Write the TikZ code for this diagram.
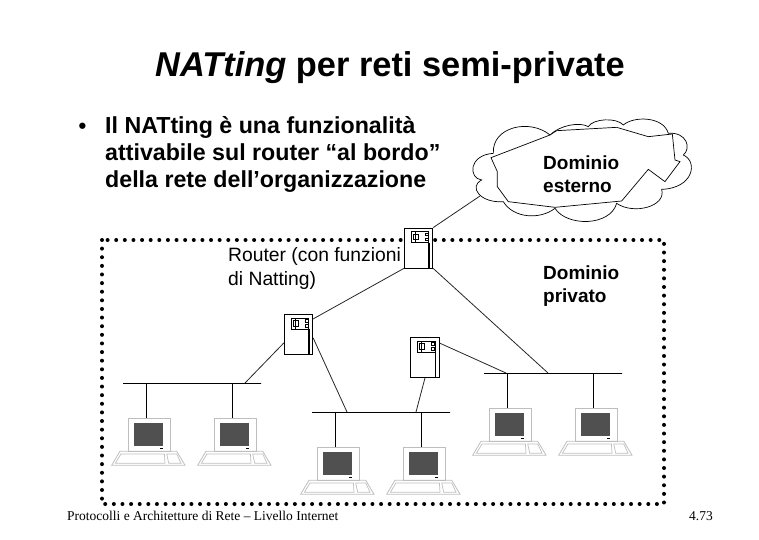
\documentclass[tikz,border=0pt]{standalone}
\usepackage{fontspec}
\setmainfont{Liberation Sans}
\newfontfamily\footfont{Liberation Serif}
\usetikzlibrary{shapes}
\definecolor{screenGray}{HTML}{505050}
\definecolor{caseGray}{HTML}{BEBEBE}
\tikzset{
 routerBox/.style={draw,fill=white,line width=.8pt,minimum width=28.5pt,minimum height=40pt,inner sep=0pt},
 pcBox/.style={draw=caseGray,fill=white,line width=1pt,minimum width=42pt,minimum height=33pt,inner sep=0pt},
 busLine/.style={draw,line width=.9pt,minimum width=138pt,minimum height=0pt,inner sep=0pt},
 link/.style={line width=.8pt,black!85},
 bigLabel/.style={anchor=north west,align=left,inner sep=0pt,font=\bfseries\fontsize{19}{23}\selectfont},
 thinLabel/.style={anchor=north west,align=left,inner sep=0pt,font=\fontsize{19.3}{24}\selectfont}
}
% Router front panel, drawn from the corner of its box
\newcommand{\routerParts}[1]{
 \begin{scope}[shift={(#1.north west)}]
  \draw[line width=.6pt] (7,4) rectangle (24.7,15);
  \draw[line width=.6pt] (9,6.5) rectangle (14,12);
  \draw[line width=1pt] (11.5,4) -- (11.5,15);
  \draw[line width=.6pt] (21,5.5) rectangle (24,8);
  \draw[line width=.6pt] (21,10.5) rectangle (24,13);
  \draw[line width=1.7pt] (25,15) -- (25,40);
 \end{scope}
}
% Screen and keyboard of a computer
\newcommand{\pcParts}[1]{
 \begin{scope}[shift={(#1.north west)}]
  \fill[screenGray] (6,4.3) rectangle (35.5,27.5);
  \fill[black] (32,29.5) rectangle (35.5,31);
  \draw[caseGray,line width=.8pt] (-7.7,33) -- (49,33) -- (57.3,47) -- (-16,47) -- cycle;
  \draw[caseGray,line width=.7pt] (-6.7,35.7) -- (36.7,35.7) -- (37.3,45) -- (-12.3,45) -- cycle;
  \draw[caseGray,line width=.7pt] (39,35.7) -- (49,35.7) -- (53.3,45) -- (41,45) -- cycle;
 \end{scope}
}
\begin{document}
\begin{tikzpicture}[x=1pt,y=-1pt]
 \useasboundingbox (0,0) rectangle (759,539);
 %% Frame of the private domain
 \draw[line width=4pt,line cap=round,dash pattern=on 0pt off 8.62pt] (102,240) rectangle (664,504);
 %% Texts
 \path (390,76) node(title)[anchor=base,inner sep=0pt,font=\bfseries\fontsize{34.4}{38}\selectfont] {\textit{NATting} per reti semi-private};
 \path (78.5,133) node(bullet)[anchor=base west,inner sep=0pt,font=\bfseries\fontsize{22}{27}\selectfont] {•};
 \path (105,116.5) node(bulletText)[anchor=north west,align=left,inner sep=0pt,font=\bfseries\fontsize{23.2}{27}\selectfont]
  {Il NATting è una funzionalità\\attivabile sul router “al bordo”\\della rete dell’organizzazione};
 \path (67,520) node(footLeft)[anchor=base west,inner sep=0pt,font=\footfont\fontsize{13.5}{15}\selectfont] {Protocolli e Architetture di Rete – Livello Internet};
 \path (713,520) node(footRight)[anchor=base east,inner sep=0pt,font=\footfont\fontsize{13.5}{15}\selectfont] {4.73};
 %% Cloud
 \begin{scope}[shift={(460,120)},scale=.3333]
  \draw[line width=.7pt,fill=white] (100,100) .. controls (95,20) and (210,-5) .. (270,45)
   .. controls (300,15) and (360,5) .. (385,20)
   .. controls (400,-5) and (470,-8) .. (490,15)
   .. controls (520,-12) and (610,-12) .. (625,40)
   .. controls (680,35) and (695,85) .. (670,105)
   .. controls (715,125) and (700,205) .. (605,208)
   .. controls (620,260) and (520,285) .. (470,250)
   .. controls (450,320) and (320,320) .. (285,265)
   .. controls (240,300) and (160,295) .. (130,245)
   .. controls (60,250) and (25,200) .. (65,180)
   .. controls (25,175) and (25,105) .. (100,100) -- cycle;
  \draw[line width=.7pt,fill=white] (93,113) -- (270,45) -- (290,32) -- (470,22) -- (565,50)
   -- (637,42) -- (645,120) -- (660,125) -- (615,185) -- (565,148) -- (485,243)
   -- (285,262) -- (145,245) -- (112,200) -- (112,155) -- cycle;
  \coordinate (cloudFoot) at (60,228);
 \end{scope}
 \path (543,156) node(cloudLabel)[bigLabel] {Dominio\\esterno};
 \path (543,266) node(privateLabel)[bigLabel] {Dominio\\privato};
 \path (228,247) node(routerLabel)[thinLabel] {Router (con funzioni\\di Natting)};
 %% Routers
 \path (418.5,248) node(routerTop)[routerBox] {};
 \path (298.5,334.3) node(routerLeft)[routerBox] {};
 \path (425,357.5) node(routerRight)[routerBox] {};
 \routerParts{routerTop}
 \routerParts{routerLeft}
 \routerParts{routerRight}
 %% Networks
 \path (192,383) node(busA)[busLine] {};
 \path (381,412) node(busB)[busLine] {};
 \path (553,373) node(busC)[busLine] {};
 %% Computers
 \path (149.2,435.2) node(pcA)[pcBox] {};
 \path (235.2,435.2) node(pcB)[pcBox] {};
 \path (338.2,464.2) node(pcC)[pcBox] {};
 \path (424.2,464.2) node(pcD)[pcBox] {};
 \path (510.2,425.2) node(pcE)[pcBox] {};
 \path (596.2,425.2) node(pcF)[pcBox] {};
 \foreach \pc in {pcA,pcB,pcC,pcD,pcE,pcF} {
  \pcParts{\pc}
 }
 %% Drawing Connections
 \draw[link] (routerTop.north east) -- (cloudFoot);
 \draw[link] (routerTop.south west) -- ([yshift=-5pt]routerLeft.north east);
 \draw[link] (routerTop.south east) -- ([xshift=-5pt]busC.center);
 \draw[link] ([yshift=-29pt]routerLeft.north west) -- ([xshift=53pt]busA.center);
 \draw[link] ([yshift=-24pt]routerLeft.north east) -- ([xshift=-34pt]busB.center);
 \draw[link] (routerRight.south) -- ([xshift=35pt]busB.center);
 \draw[link] ([yshift=-6pt]routerRight.north east) -- ([xshift=-47pt]busC.center);
 \foreach \pc/\bus in {pcA/busA,pcB/busA,pcC/busB,pcD/busB,pcE/busC,pcF/busC} {
  \draw[line width=.8pt] ([xshift=-3pt]\pc.north) -- ([xshift=-3pt]\pc.north |- \bus.center);
 }
\end{tikzpicture}
\end{document}
